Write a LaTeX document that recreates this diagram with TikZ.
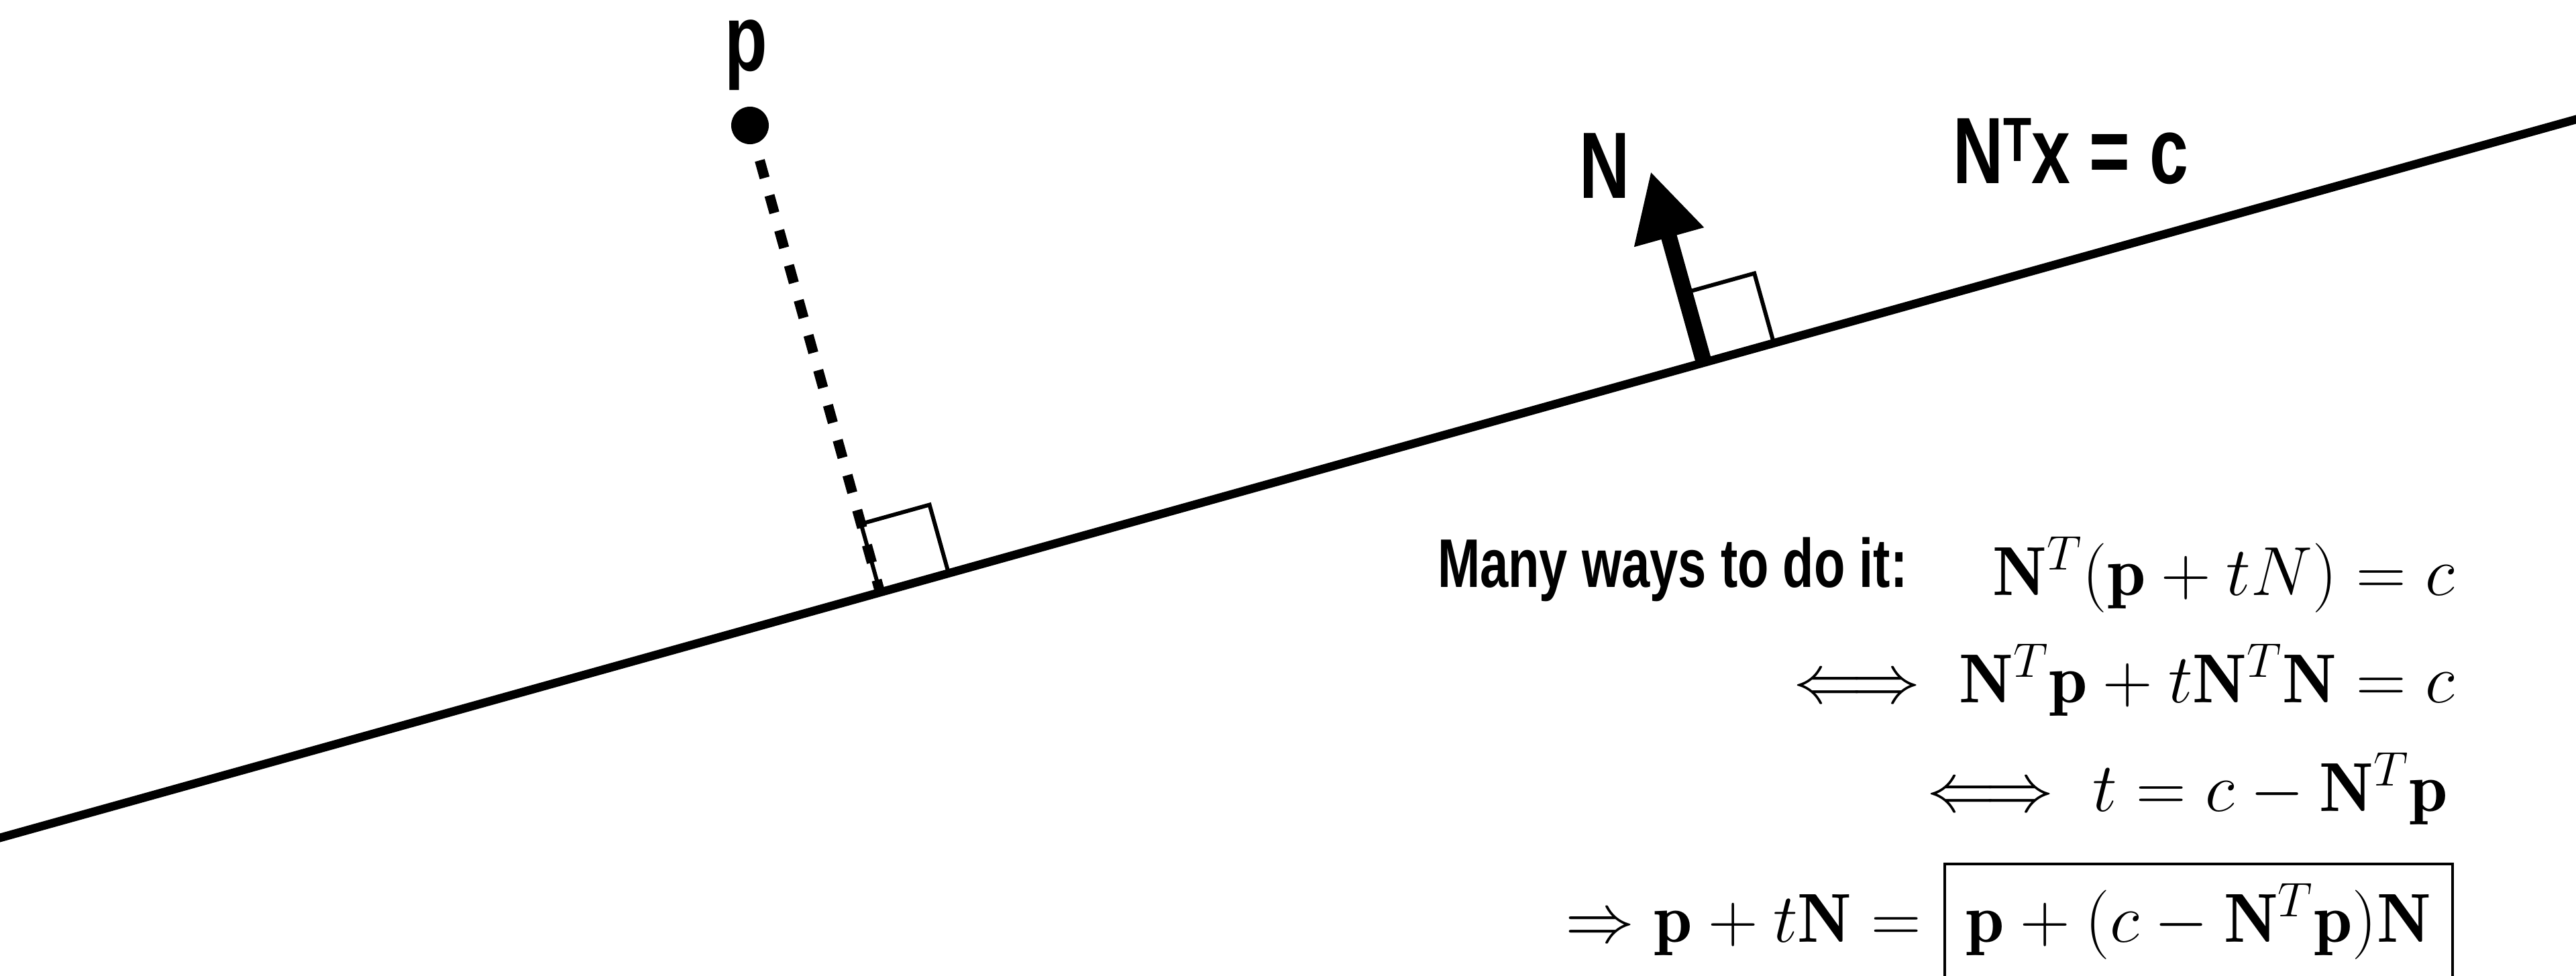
\RequirePackage{fix-cm}
\documentclass[tikz,border=0pt]{standalone}
\usepackage{fontspec}
\usepackage{amsmath}
\usepackage{tikz}
\usetikzlibrary{arrows.meta,positioning,calc}
\newfontfamily\condfont[FakeStretch=0.74]{Liberation Sans}

\begin{document}
\begin{tikzpicture}[x=1mm,y=1mm,
  every node/.style={inner sep=0pt,outer sep=0pt},
  lbl/.style={font=\condfont\bfseries\fontsize{40}{44}\selectfont},
  eqn/.style={font=\fontsize{29.4}{35}\selectfont,anchor=base east},
  plane/.style={line width=3.6pt},
  rightangle/.style={line width=1.7pt},
  proj/.style={line width=4.3pt,dash pattern=on 7.7pt off 7.7pt}
]
\useasboundingbox (0,0) rectangle (384,145.4);
% Plane
\coordinate (lineL) at (0,20.5);
\coordinate (lineR) at (384,127.6);
\draw[plane] ($(lineL)!-0.01!(lineR)$) -- ($(lineL)!1.01!(lineR)$);
% Point p and its foot on the plane
\node[circle,fill,minimum size=5.6mm] (p) at (111.8,126.7) {};
\coordinate (foot)  at ($(lineL)!(p)!(lineR)$);
\coordinate (footA) at ($(foot)!10.6mm!(lineR)$);
\coordinate (footB) at ($(footA)!10.6mm!-90:(foot)$);
\coordinate (footC) at ($(foot)!10.6mm!90:(lineR)$);
\draw[proj] (p.center) -- (foot);
\draw[rightangle] (footA) -- (footB) -- (footC) -- (foot);
% Normal N
\coordinate (nbase) at ($(lineL)!0.6615!(lineR)$);
\coordinate (ntip)  at ($(nbase)!29.6mm!90:(lineR)$);
\coordinate (nA) at ($(nbase)!10.8mm!(lineR)$);
\coordinate (nB) at ($(nA)!10.8mm!-90:(nbase)$);
\coordinate (nC) at ($(nbase)!10.8mm!90:(lineR)$);
\draw[rightangle] (nA) -- (nB) -- (nC);
\draw[-{Triangle[length=10.2mm,width=10.1mm]},line width=6.8pt] (nbase) -- (ntip);
% Labels
\node[lbl,anchor=base] (plbl) at (111.2,134.8) {p};
\node[lbl,anchor=base] (nlbl) at (239.2,115.9) {N};
\node[lbl,anchor=base west] (eqplane) at (291.1,118.0)
  {N\raisebox{9.5pt}{\fontsize{26.5}{28}\selectfont T}x = c};
% Derivation
\node[anchor=base west,font=\condfont\bfseries\fontsize{29.2}{34}\selectfont]
  (ways) at (214.3,57.9) {Many ways to do it:};
\node[eqn] (eqA) at (365.9,56.7) {$\mathbf{N}^T(\mathbf{p}+tN)=c$};
\node[eqn] (eqB) at (365.9,40.7) {$\iff \mathbf{N}^T\mathbf{p}+t\mathbf{N}^T\mathbf{N}=c$};
\node[eqn] (eqC) at (364.9,24.5) {$\iff t=c-\mathbf{N}^T\mathbf{p}$};
\node[eqn,draw,line width=1pt,inner xsep=3.2mm,text height=11.6mm,text depth=6mm]
  (eqD) at (365.6,5.0) {$\mathbf{p}+(c-\mathbf{N}^T\mathbf{p})\mathbf{N}$};
\node[eqn] (eqDl) at ($(eqD.base west)+(-3.5,0)$) {$\Rightarrow\mathbf{p}+t\mathbf{N}=$};
\end{tikzpicture}
\end{document}
